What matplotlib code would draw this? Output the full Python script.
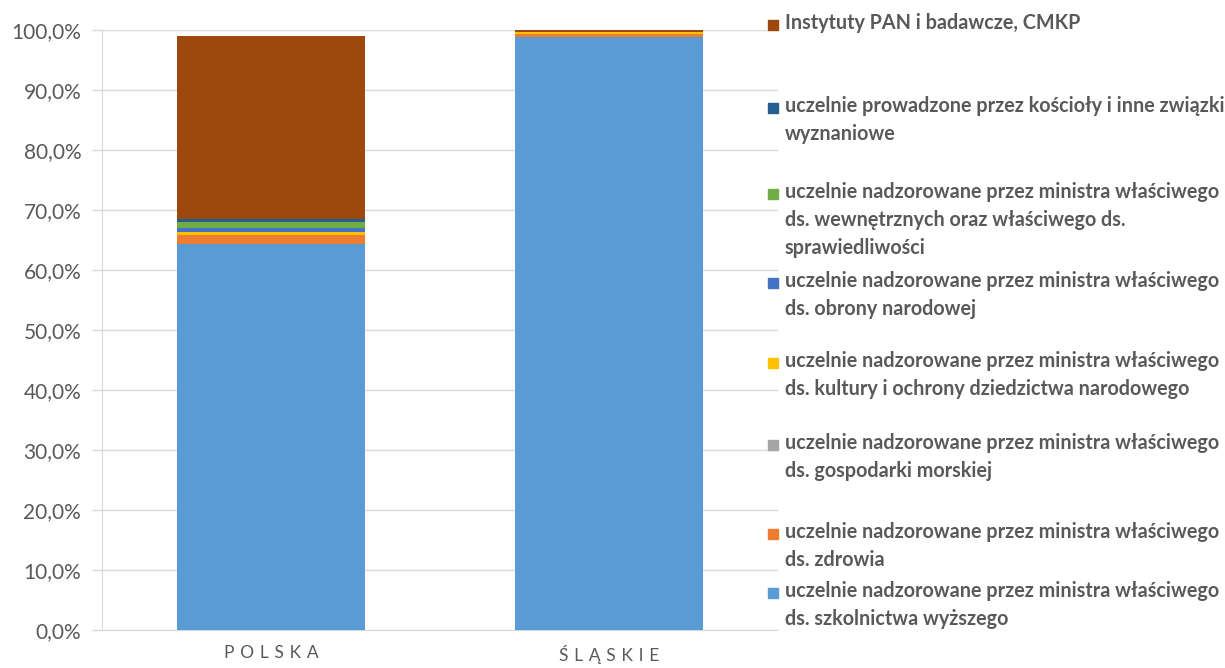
import matplotlib.pyplot as plt
import matplotlib.patches as mpatches
from matplotlib.ticker import FuncFormatter

# Regiony i kategorie uczelni (od dołu słupka do góry)
regiony = ['POLSKA', 'ŚLĄSKIE']
kategorie = [
    'uczelnie nadzorowane przez ministra właściwego\nds. szkolnictwa wyższego',
    'uczelnie nadzorowane przez ministra właściwego\nds. zdrowia',
    'uczelnie nadzorowane przez ministra właściwego\nds. gospodarki morskiej',
    'uczelnie nadzorowane przez ministra właściwego\nds. kultury i ochrony dziedzictwa narodowego',
    'uczelnie nadzorowane przez ministra właściwego\nds. obrony narodowej',
    'uczelnie nadzorowane przez ministra właściwego\nds. wewnętrznych oraz właściwego ds.\nsprawiedliwości',
    'uczelnie prowadzone przez kościoły i inne związki\nwyznaniowe',
    'Instytuty PAN i badawcze, CMKP',
]
polska = [64.3, 1.5, 0.1, 0.5, 0.6, 0.95, 0.6, 30.5]
slaskie = [98.8, 0.6, 0.0, 0.35, 0.0, 0.0, 0.0, 0.25]
kolory = ['#5B9BD5', '#ED7D31', '#A5A5A5', '#FFC000', '#4472C4', '#70AD47', '#255E91', '#9E480E']

plt.rcParams['font.family'] = ['Lato', 'DejaVu Sans']
szary = '#595959'
linia = '#D9D9D9'

fig = plt.figure(figsize=(12.25, 6.68), dpi=100)
ax = fig.add_axes([102 / 1225, 38 / 668, 676 / 1225, 600 / 668])

x = range(len(regiony))
dol = [0.0, 0.0]
for i in range(len(kategorie)):
    wart = [polska[i], slaskie[i]]
    ax.bar(x, wart, width=0.556, bottom=dol, color=kolory[i], zorder=3)
    dol = [dol[0] + wart[0], dol[1] + wart[1]]

ax.set_xlim(-0.5, 1.5)
ax.set_ylim(0, 100)
ax.set_yticks(range(0, 101, 10))
ax.yaxis.set_major_formatter(FuncFormatter(lambda v, p: f'{v:.1f}%'.replace('.', ',')))
ax.set_xticks(list(x))
# rozstrzelone litery w podpisach osi X
ax.set_xticklabels(['\u2004'.join(r) for r in regiony], fontsize=12.5, color=szary)
ax.tick_params(axis='y', labelsize=15, labelcolor=szary, color=linia, length=7, width=1, pad=8)
ax.tick_params(axis='x', length=0, pad=11)
ax.grid(axis='y', color=linia, linewidth=1, zorder=0)
for s in ['top', 'right']:
    ax.spines[s].set_visible(False)
for s in ['left', 'bottom']:
    ax.spines[s].set_color(linia)

# Legenda rysowana ręcznie po prawej stronie
pozycje = [593, 534, 445, 363, 283, 194, 108, 25]
for kat, kol, py in zip(kategorie, kolory, pozycje):
    fig.patches.append(mpatches.Rectangle((768 / 1225, 1 - (py + 5) / 668), 10 / 1225, 10 / 668,
                                          transform=fig.transFigure, color=kol))
    fig.text(785 / 1225, 1 - (py - 12) / 668, kat, fontsize=14.2, fontweight='bold', color=szary,
             va='top', ha='left', linespacing=1.5)

fig.savefig('out.png', dpi=100)
